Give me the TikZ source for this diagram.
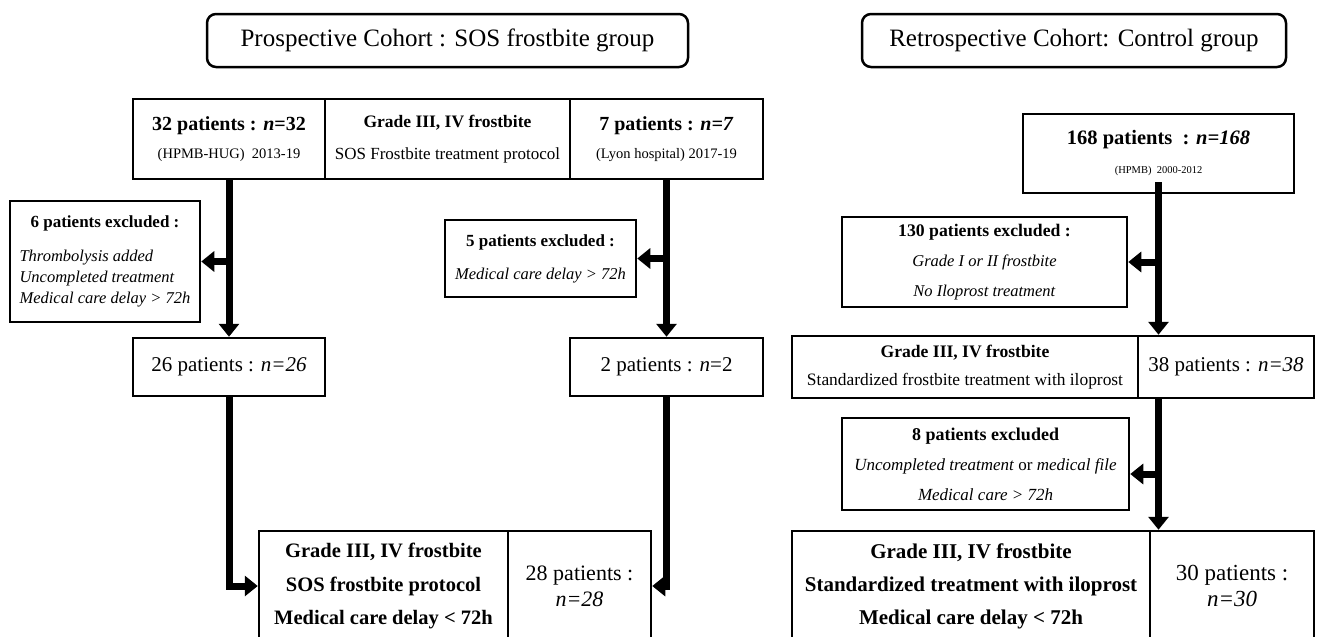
\documentclass[tikz,border=0pt]{standalone}
\usepackage{fontspec}
\setmainfont{Liberation Serif}
\usetikzlibrary{arrows.meta}
\newcommand{\fsz}[1]{\fontsize{#1}{#1}\selectfont}

\begin{document}
\begin{tikzpicture}[x=1pt,y=-1pt,
  box/.style={draw,line width=2.5pt,inner sep=0pt,align=center},
  cohort/.style={box,rounded corners=9pt,minimum height=53pt,font=\fsz{25}},
  flow/.style={line width=7pt,-{Triangle[width=20pt,length=13pt]}}]
\useasboundingbox (0,0) rectangle (1317,637);
% cohort titles
\node[cohort,minimum width=481pt] (pros) at (447.5,40.5) {Prospective Cohort : SOS frostbite group};
\node[cohort,minimum width=424pt] (retro) at (1074,40.5) {Retrospective Cohort: Control group};
% prospective cohort
\node[box,minimum width=192pt,minimum height=80pt,font=\fontsize{15}{28}\selectfont] (c32) at (229,139)
  {{\fsz{20}\bfseries 32 patients : \textit{n}=32}\\{\fsz{14.5}(HPMB-HUG)~~2013-19}};
\node[box,minimum width=245pt,minimum height=80pt,font=\fontsize{17}{32}\selectfont] (cgrade) at (447.5,139)
  {{\fsz{17.5}\bfseries Grade III, IV frostbite}\\{\fsz{17}SOS Frostbite treatment protocol}};
\node[box,minimum width=193pt,minimum height=80pt,font=\fontsize{15}{28}\selectfont] (c7) at (666.5,139)
  {{\fsz{20}\bfseries 7 patients : \textit{n=7}}\\{\fsz{14.5}(Lyon hospital) 2017-19}};
\node[box,minimum width=190pt,minimum height=121pt,font=\fontsize{16.5}{21}\selectfont] (ex6) at (105,261.5)
  {\begin{tabular}{@{}l@{}}
   \multicolumn{1}{@{}c@{}}{\fsz{17}\bfseries 6 patients excluded :}\\[13pt]
   \textit{Thrombolysis added}\\
   \textit{Uncompleted treatment}\\
   \textit{Medical care delay > 72h}
   \end{tabular}};
\node[box,minimum width=191pt,minimum height=77pt,font=\fontsize{16.5}{33}\selectfont] (ex5) at (540.5,258.5)
  {{\fsz{17}\bfseries 5 patients excluded :}\\\textit{Medical care delay > 72h}};
\node[box,minimum width=192pt,minimum height=58pt,font=\fsz{21}] (n26) at (229,367) {26 patients : \textit{n=26}};
\node[box,minimum width=193pt,minimum height=58pt,font=\fsz{21}] (n2) at (666.5,367) {2 patients : \textit{n}=2};
\node[box,minimum width=249pt,minimum height=110pt,font=\fontsize{20.5}{33.5}\selectfont\bfseries] (sos) at (383.5,586)
  {Grade III, IV frostbite\\SOS frostbite protocol\\Medical care delay < 72h};
\node[box,minimum width=143pt,minimum height=110pt,font=\fontsize{22}{26}\selectfont] (n28) at (579.5,586)
  {28 patients :\\\textit{n=28}};
% retrospective cohort
\node[box,minimum width=271pt,minimum height=79pt,font=\fontsize{15}{29}\selectfont] (c168) at (1158.5,153.5)
  {{\fsz{20.5}\bfseries 168 patients~~: \textit{n=168}}\\{\fsz{10.5}(HPMB)~~2000-2012}};
\node[box,minimum width=285pt,minimum height=90pt,font=\fontsize{16.5}{30}\selectfont] (ex130) at (984.5,262)
  {{\fsz{17.7}\bfseries 130 patients excluded :}\\\textit{Grade I or II frostbite}\\\textit{No Iloprost treatment}};
\node[box,minimum width=346pt,minimum height=62pt,font=\fontsize{17.4}{28}\selectfont] (g38) at (965,367)
  {{\fsz{17.6}\bfseries Grade III, IV frostbite}\\Standardized frostbite treatment with iloprost};
\node[box,minimum width=176pt,minimum height=62pt,font=\fsz{21}] (n38) at (1226,367) {38 patients : \textit{n=38}};
\node[box,minimum width=287pt,minimum height=92pt,font=\fontsize{17}{30}\selectfont] (ex8) at (985.5,464)
  {{\fsz{18}\bfseries 8 patients excluded}\\\textit{Uncompleted treatment} or \textit{medical file}\\\textit{Medical care > 72h}};
\node[box,minimum width=358pt,minimum height=110pt,font=\fontsize{21}{33}\selectfont\bfseries] (g30) at (971,586)
  {Grade III, IV frostbite\\Standardized treatment with iloprost\\Medical care delay < 72h};
\node[box,minimum width=164pt,minimum height=110pt,font=\fontsize{23}{26}\selectfont] (n30) at (1232,586)
  {30 patients :\\\textit{n=30}};
\coordinate (ex8in) at ([yshift=-10pt]ex8.east);
% arrows
\draw[flow] (c32.south) -- (n26.north);
\draw[flow] (c32.south |- ex6.east) -- (ex6.east);
\draw[flow] (c7.south) -- (n2.north);
\draw[flow] (c7.south |- ex5.east) -- (ex5.east);
\draw[flow] (n26.south) |- (sos.west);
\draw[flow] (n2.south) |- (n28.east);
\draw[flow] ([yshift=12pt]c168.south) -- (c168.south |- n38.north);
\draw[flow] (c168.south |- ex130.east) -- (ex130.east);
\draw[flow] (c168.south |- n38.south) -- (c168.south |- g30.north);
\draw[flow] (c168.south |- ex8in) -- (ex8in);
\end{tikzpicture}
\end{document}
